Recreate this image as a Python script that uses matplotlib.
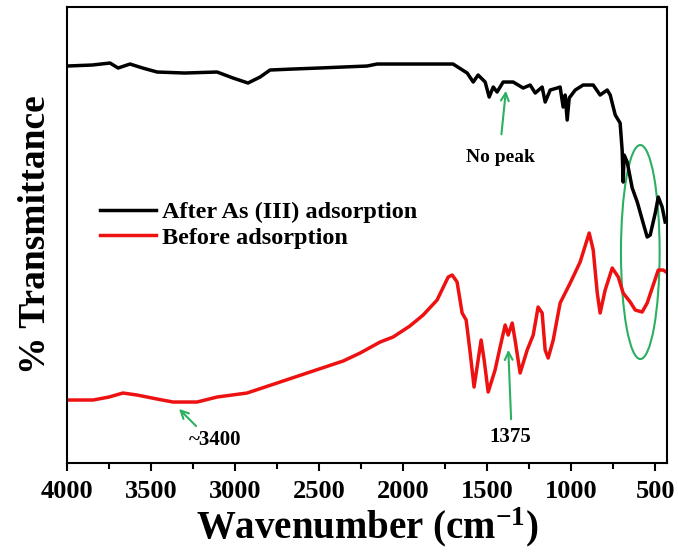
import matplotlib
matplotlib.use('Agg')
import matplotlib.pyplot as plt
from matplotlib.patches import Ellipse
from matplotlib.ticker import MultipleLocator

# FTIR spectra, values (arbitrary transmittance units)
wn_after = [4000, 3850, 3744, 3696, 3625, 3550, 3464, 3300, 3107, 3012, 2923, 2851, 2792,
            2655, 2500, 2357, 2214, 2155, 2000, 1703, 1619, 1583, 1554, 1512, 1488, 1464,
            1441, 1405, 1345, 1286, 1244, 1214, 1173, 1155, 1125, 1084, 1066, 1048, 1036,
            1024, 1012, 976, 929, 869, 828, 786, 768, 738, 709, 697, 691, 685, 667, 637,
            607, 572, 548, 530, 500, 482, 459, 441]
t_after = [397, 398, 400, 395, 399, 395, 391, 390, 391, 385, 380, 386, 393,
           394, 395, 396, 397, 399, 399, 399, 390, 381, 388, 381, 366, 376,
           371, 381, 381, 375, 378, 370, 376, 361, 373, 375, 376, 356, 368,
           343, 365, 373, 378, 378, 368, 373, 368, 348, 340, 313, 281, 308, 301, 275,
           261, 240, 226, 228, 250, 266, 256, 241]

wn_before = [4000, 3845, 3750, 3667, 3583, 3464, 3369, 3226, 3107, 2929, 2750, 2554, 2357,
             2256, 2137, 2060, 1960, 1881, 1798, 1732, 1708, 1679, 1649, 1625, 1601, 1578,
             1536, 1518, 1494, 1453, 1423, 1393, 1375, 1351, 1334, 1304, 1262, 1226,
             1197, 1173, 1155, 1137, 1107, 1066, 1006, 947, 893, 869, 845, 828, 798,
             756, 720, 691, 649, 619, 578, 548, 518, 482, 453, 435]
t_before = [63, 63, 66, 70, 68, 64, 61, 61, 66, 70, 80, 91, 102,
            110, 121, 126, 137, 148, 163, 186, 188, 181, 150, 143, 110, 76,
            123, 103, 71, 93, 116, 138, 128, 140, 123, 90, 113, 128,
            156, 150, 113, 105, 123, 160, 180, 201, 230, 213, 170, 150, 173,
            195, 186, 170, 161, 153, 151, 160, 175, 193, 193, 191]

labels = ['After As (III) adsorption', 'Before adsorption']

green = '#2bb061'
serif = 'Liberation Serif'
plt.rcParams['font.family'] = serif
plt.rcParams['font.weight'] = 'bold'
plt.rcParams['mathtext.fontset'] = 'custom'
plt.rcParams['mathtext.rm'] = 'Liberation Serif:bold'
plt.rcParams['mathtext.it'] = 'Liberation Serif:bold'
plt.rcParams['mathtext.bf'] = 'Liberation Serif:bold'

fig = plt.figure(figsize=(6.78, 5.53), dpi=100)
ax = fig.add_axes([0.0988, 0.1627, 0.8850, 0.8246])

ax.plot(wn_after, t_after, color='k', lw=2.5, label=labels[0])
ax.plot(wn_before, t_before, color='#ee1111', lw=2.5, label=labels[1])

ax.set_xlim(4000, 430)
ax.set_ylim(0, 456)
ax.set_yticks([])
ax.xaxis.set_major_locator(MultipleLocator(500))
ax.xaxis.set_minor_locator(MultipleLocator(250))
ax.tick_params(axis='x', which='major', length=6, width=1.5, labelsize=19, pad=6)
ax.tick_params(axis='x', which='minor', length=4, width=1.5)
for lab in ax.get_xticklabels():
    lab.set_fontweight('bold')
for s in ax.spines.values():
    s.set_linewidth(1.5)

ax.set_xlabel('Wavenumber (cm$^{-1}$)', fontsize=28, fontweight='bold', labelpad=2)
ax.set_ylabel('% Transmittance', fontsize=27, fontweight='bold', labelpad=10)

ax.legend(loc='center left', bbox_to_anchor=(0.055, 0.522), frameon=False,
          prop={'family': serif, 'weight': 'bold', 'size': 17.5},
          handlelength=2.3, handletextpad=0.25, labelspacing=0.15,
          borderpad=0, borderaxespad=0)

# annotations
ax.add_patch(Ellipse((589, 211), 230, 214, fill=False, edgecolor=green, lw=1.5))
arrow = dict(arrowstyle='->', color=green, lw=1.5, mutation_scale=14)
ax.annotate('', xy=(1387, 375), xytext=(1417, 326), arrowprops=arrow)
ax.text(1423, 306, 'No peak', ha='center', va='center', fontsize=14, fontweight='bold')
ax.annotate('', xy=(1375, 116), xytext=(1357, 41), arrowprops=arrow)
ax.text(1363, 26, '1375', ha='center', va='center', fontsize=15, fontweight='bold')
ax.annotate('', xy=(3345, 56), xytext=(3220, 35), arrowprops=arrow)
ax.text(3119, 23, '~3400', ha='center', va='center', fontsize=15, fontweight='bold')

fig.savefig('out.png', dpi=100)
